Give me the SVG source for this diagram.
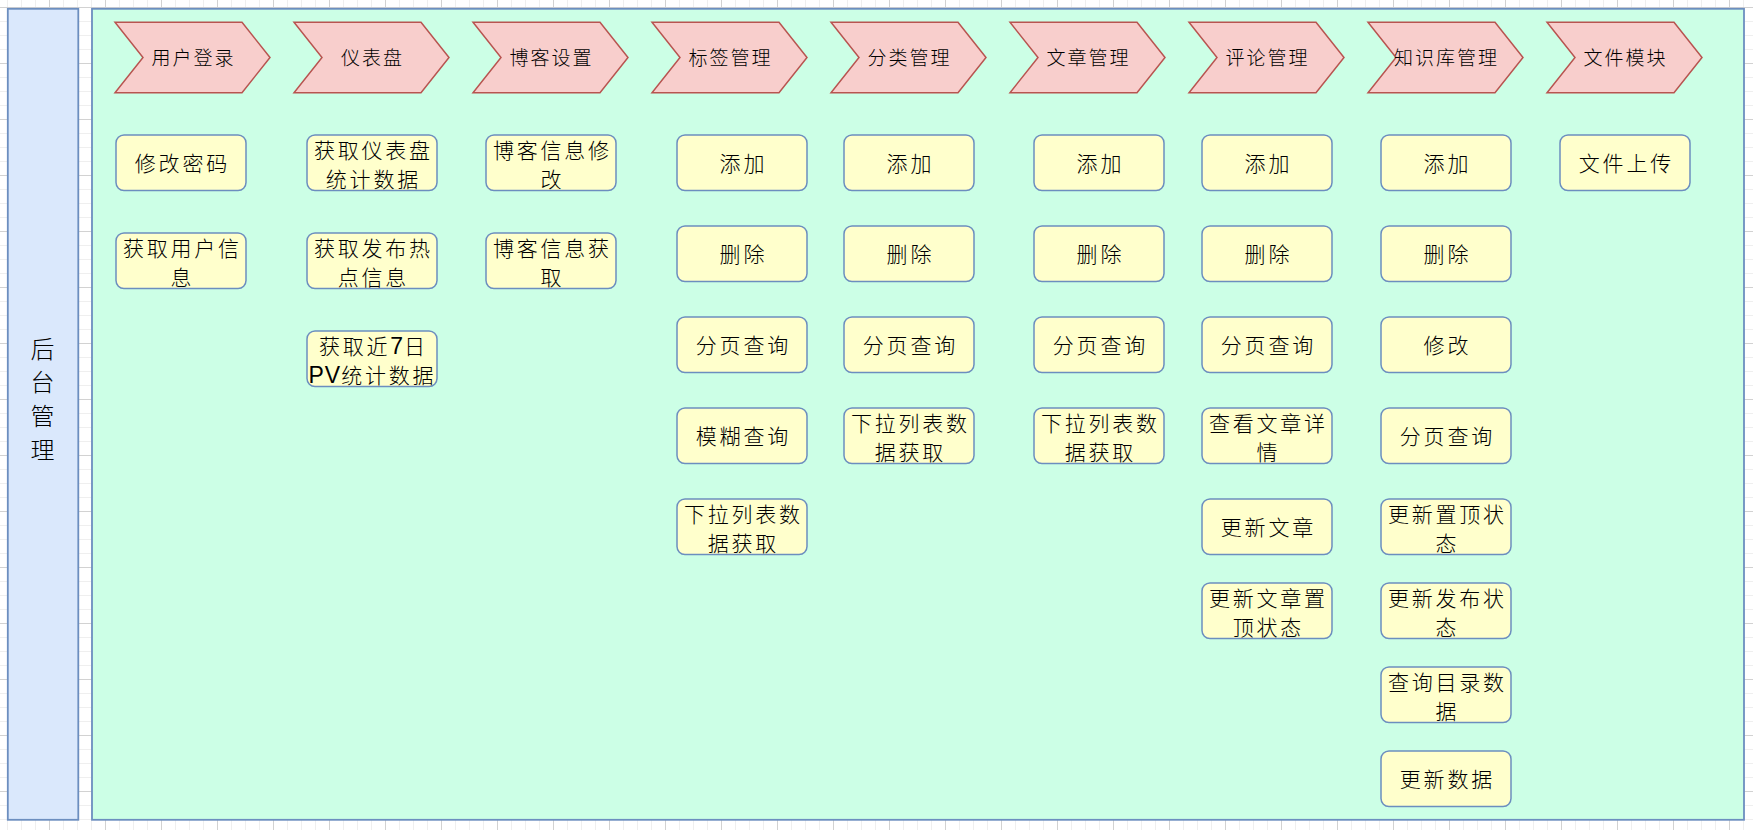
<svg xmlns="http://www.w3.org/2000/svg" width="1753" height="830" viewBox="0 0 1753 830">
<style>
.chev{fill:#f8cecc;stroke:#b85450;stroke-width:1.5}
.box{fill:#ffffcc;stroke:#6c8ebf;stroke-width:1.5}
.ct{font-family:"Noto Sans CJK SC","Noto Sans CJK JP",sans-serif;font-weight:300;font-size:19px;letter-spacing:2px;text-anchor:middle;fill:#000}
.bt{font-family:"Noto Sans CJK SC","Noto Sans CJK JP",sans-serif;font-weight:300;font-size:21px;letter-spacing:2.8px;text-anchor:middle;fill:#000}
.lat{font-family:"Liberation Sans",Arial,sans-serif;font-weight:400;font-size:23px;letter-spacing:1px}
.vt{font-family:"Noto Sans CJK SC","Noto Sans CJK JP",sans-serif;font-weight:300;font-size:24px;text-anchor:middle;fill:#000}
</style>
<defs>
<pattern id="minor" patternUnits="userSpaceOnUse" x="7" y="7" width="14" height="14">
<path d="M0.5 0V14M0 0.5H14" fill="none" stroke="#efefef" stroke-width="1"/>
</pattern>
<pattern id="major" patternUnits="userSpaceOnUse" x="49" y="7" width="56" height="56">
<path d="M0.5 0V56M0 0.5H56" fill="none" stroke="#d2d2d2" stroke-width="1"/>
</pattern>
</defs>
<g id="background">
<rect x="0" y="0" width="1753" height="830" fill="#ffffff"/>
<rect x="0" y="0" width="1753" height="830" fill="url(#minor)"/>
<rect x="0" y="0" width="1753" height="830" fill="url(#major)"/>
</g>
<g id="lane-title">
<rect x="7.8" y="8.8" width="70.5" height="811" fill="#dae8fc" stroke="#6c8ebf" stroke-width="1.8"/>
<text class="vt" x="42.5" y="357.8">后</text>
<text class="vt" x="42.5" y="391.4">台</text>
<text class="vt" x="42.5" y="424.9">管</text>
<text class="vt" x="42.5" y="458.6">理</text>
</g>
<g id="lane-body">
<rect x="92" y="8.8" width="1652" height="811" fill="#ccffe6" stroke="#6c8ebf" stroke-width="1.8"/>
</g>
<g id="connectors"></g>
<g id="stage-1"><polygon class="chev" points="115,22.3 242,22.3 270,57.5 242,92.7 115,92.7 143,57.5"/><text class="ct" x="193.5" y="64.5">用户登录</text></g>
<g id="stage-2"><polygon class="chev" points="294,22.3 421,22.3 449,57.5 421,92.7 294,92.7 322,57.5"/><text class="ct" x="372.5" y="64.5">仪表盘</text></g>
<g id="stage-3"><polygon class="chev" points="473,22.3 600,22.3 628,57.5 600,92.7 473,92.7 501,57.5"/><text class="ct" x="551.5" y="64.5">博客设置</text></g>
<g id="stage-4"><polygon class="chev" points="652,22.3 779,22.3 807,57.5 779,92.7 652,92.7 680,57.5"/><text class="ct" x="730.5" y="64.5">标签管理</text></g>
<g id="stage-5"><polygon class="chev" points="831,22.3 958,22.3 986,57.5 958,92.7 831,92.7 859,57.5"/><text class="ct" x="909.5" y="64.5">分类管理</text></g>
<g id="stage-6"><polygon class="chev" points="1010,22.3 1137,22.3 1165,57.5 1137,92.7 1010,92.7 1038,57.5"/><text class="ct" x="1088.5" y="64.5">文章管理</text></g>
<g id="stage-7"><polygon class="chev" points="1189,22.3 1316,22.3 1344,57.5 1316,92.7 1189,92.7 1217,57.5"/><text class="ct" x="1267.5" y="64.5">评论管理</text></g>
<g id="stage-8"><polygon class="chev" points="1368,22.3 1495,22.3 1523,57.5 1495,92.7 1368,92.7 1396,57.5"/><text class="ct" x="1446.5" y="64.5">知识库管理</text></g>
<g id="stage-9"><polygon class="chev" points="1547,22.3 1674,22.3 1702,57.5 1674,92.7 1547,92.7 1575,57.5"/><text class="ct" x="1625.5" y="64.5">文件模块</text></g>

<g id="c1-r1"><rect class="box" x="116" y="135" width="130" height="55.5" rx="8"/><text class="bt" x="182.4" y="171.3">修改密码</text></g>
<g id="c1-r2"><rect class="box" x="116" y="233" width="130" height="55.5" rx="8"/><text class="bt" x="182.4" y="255.5">获取用户信</text><text class="bt" x="182.4" y="285">息</text></g>

<g id="c2-r1"><rect class="box" x="307" y="135" width="130" height="55.5" rx="8"/><text class="bt" x="373.4" y="157.5">获取仪表盘</text><text class="bt" x="373.4" y="187">统计数据</text></g>
<g id="c2-r2"><rect class="box" x="307" y="233" width="130" height="55.5" rx="8"/><text class="bt" x="373.4" y="255.5">获取发布热</text><text class="bt" x="373.4" y="285">点信息</text></g>
<g id="c2-r3"><rect class="box" x="307" y="331" width="130" height="55.5" rx="8"/><text class="bt" x="373.4" y="353.5">获取近<tspan class="lat">7</tspan>日</text><text class="bt" x="372.4" y="383"><tspan class="lat">PV</tspan>统计数据</text></g>

<g id="c3-r1"><rect class="box" x="486" y="135" width="130" height="55.5" rx="8"/><text class="bt" x="552.4" y="157.5">博客信息修</text><text class="bt" x="552.4" y="187">改</text></g>
<g id="c3-r2"><rect class="box" x="486" y="233" width="130" height="55.5" rx="8"/><text class="bt" x="552.4" y="255.5">博客信息获</text><text class="bt" x="552.4" y="285">取</text></g>

<g id="c4-r1"><rect class="box" x="677" y="135" width="130" height="55.5" rx="8"/><text class="bt" x="743.4" y="171.3">添加</text></g>
<g id="c4-r2"><rect class="box" x="677" y="226" width="130" height="55.5" rx="8"/><text class="bt" x="743.4" y="262.3">删除</text></g>
<g id="c4-r3"><rect class="box" x="677" y="317" width="130" height="55.5" rx="8"/><text class="bt" x="743.4" y="353.3">分页查询</text></g>
<g id="c4-r4"><rect class="box" x="677" y="408" width="130" height="55.5" rx="8"/><text class="bt" x="743.4" y="444.3">模糊查询</text></g>
<g id="c4-r5"><rect class="box" x="677" y="499" width="130" height="55.5" rx="8"/><text class="bt" x="743.4" y="521.5">下拉列表数</text><text class="bt" x="743.4" y="551">据获取</text></g>

<g id="c5-r1"><rect class="box" x="844" y="135" width="130" height="55.5" rx="8"/><text class="bt" x="910.4" y="171.3">添加</text></g>
<g id="c5-r2"><rect class="box" x="844" y="226" width="130" height="55.5" rx="8"/><text class="bt" x="910.4" y="262.3">删除</text></g>
<g id="c5-r3"><rect class="box" x="844" y="317" width="130" height="55.5" rx="8"/><text class="bt" x="910.4" y="353.3">分页查询</text></g>
<g id="c5-r4"><rect class="box" x="844" y="408" width="130" height="55.5" rx="8"/><text class="bt" x="910.4" y="430.5">下拉列表数</text><text class="bt" x="910.4" y="460">据获取</text></g>

<g id="c6-r1"><rect class="box" x="1034" y="135" width="130" height="55.5" rx="8"/><text class="bt" x="1100.4" y="171.3">添加</text></g>
<g id="c6-r2"><rect class="box" x="1034" y="226" width="130" height="55.5" rx="8"/><text class="bt" x="1100.4" y="262.3">删除</text></g>
<g id="c6-r3"><rect class="box" x="1034" y="317" width="130" height="55.5" rx="8"/><text class="bt" x="1100.4" y="353.3">分页查询</text></g>
<g id="c6-r4"><rect class="box" x="1034" y="408" width="130" height="55.5" rx="8"/><text class="bt" x="1100.4" y="430.5">下拉列表数</text><text class="bt" x="1100.4" y="460">据获取</text></g>

<g id="c7-r1"><rect class="box" x="1202" y="135" width="130" height="55.5" rx="8"/><text class="bt" x="1268.4" y="171.3">添加</text></g>
<g id="c7-r2"><rect class="box" x="1202" y="226" width="130" height="55.5" rx="8"/><text class="bt" x="1268.4" y="262.3">删除</text></g>
<g id="c7-r3"><rect class="box" x="1202" y="317" width="130" height="55.5" rx="8"/><text class="bt" x="1268.4" y="353.3">分页查询</text></g>
<g id="c7-r4"><rect class="box" x="1202" y="408" width="130" height="55.5" rx="8"/><text class="bt" x="1268.4" y="430.5">查看文章详</text><text class="bt" x="1268.4" y="460">情</text></g>
<g id="c7-r5"><rect class="box" x="1202" y="499" width="130" height="55.5" rx="8"/><text class="bt" x="1268.4" y="535.3">更新文章</text></g>
<g id="c7-r6"><rect class="box" x="1202" y="583" width="130" height="55.5" rx="8"/><text class="bt" x="1268.4" y="605.5">更新文章置</text><text class="bt" x="1268.4" y="635">顶状态</text></g>

<g id="c8-r1"><rect class="box" x="1381" y="135" width="130" height="55.5" rx="8"/><text class="bt" x="1447.4" y="171.3">添加</text></g>
<g id="c8-r2"><rect class="box" x="1381" y="226" width="130" height="55.5" rx="8"/><text class="bt" x="1447.4" y="262.3">删除</text></g>
<g id="c8-r3"><rect class="box" x="1381" y="317" width="130" height="55.5" rx="8"/><text class="bt" x="1447.4" y="353.3">修改</text></g>
<g id="c8-r4"><rect class="box" x="1381" y="408" width="130" height="55.5" rx="8"/><text class="bt" x="1447.4" y="444.3">分页查询</text></g>
<g id="c8-r5"><rect class="box" x="1381" y="499" width="130" height="55.5" rx="8"/><text class="bt" x="1447.4" y="521.5">更新置顶状</text><text class="bt" x="1447.4" y="551">态</text></g>
<g id="c8-r6"><rect class="box" x="1381" y="583" width="130" height="55.5" rx="8"/><text class="bt" x="1447.4" y="605.5">更新发布状</text><text class="bt" x="1447.4" y="635">态</text></g>
<g id="c8-r7"><rect class="box" x="1381" y="667" width="130" height="55.5" rx="8"/><text class="bt" x="1447.4" y="689.5">查询目录数</text><text class="bt" x="1447.4" y="719">据</text></g>
<g id="c8-r8"><rect class="box" x="1381" y="751" width="130" height="55.5" rx="8"/><text class="bt" x="1447.4" y="787.3">更新数据</text></g>

<g id="c9-r1"><rect class="box" x="1560" y="135" width="130" height="55.5" rx="8"/><text class="bt" x="1626.4" y="171.3">文件上传</text></g>
</svg>
